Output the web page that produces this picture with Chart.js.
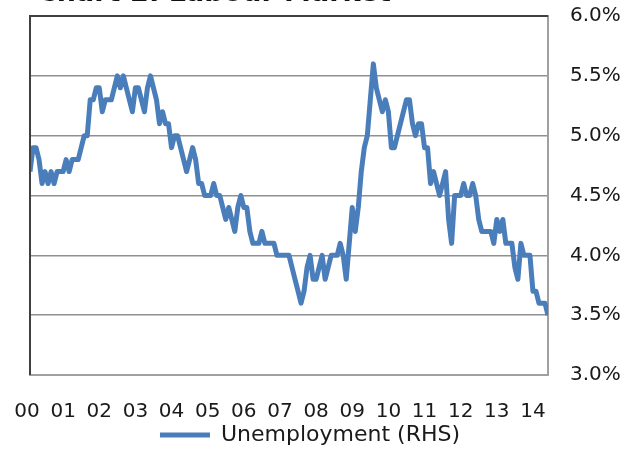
<!DOCTYPE html>
<html>
<head>
<meta charset="utf-8">
<script src="https://cdn.jsdelivr.net/npm/chart.js@4"></script>
<style>
  body { margin: 0; background: #fff; }
  #wrap { position: relative; width: 642px; height: 456px; overflow: hidden; }
  #titulo { position: absolute; left: 37px; top: -22px; font: bold 27px "DejaVu Sans"; line-height: 27px; color: #111; white-space: nowrap; }
</style>
</head>
<body>
<div id="wrap">
  <canvas id="grafico" width="642" height="456"></canvas>
  <div id="titulo">Chart 2: Labour Market</div>
</div>
<script>
// datos mensuales, ene 2000 - may 2014
const years = ['00', '01', '02', '03', '04', '05', '06', '07', '08', '09', '10', '11', '12', '13', '14']
const yTicks = [3.0, 3.5, 4.0, 4.5, 5.0, 5.5, 6.0]
const unemployment = [
  4.7, 4.9, 4.9, 4.8, 4.6, 4.7, 4.6, 4.7, 4.6, 4.7, 4.7, 4.7,
  4.8, 4.7, 4.8, 4.8, 4.8, 4.9, 5.0, 5.0, 5.3, 5.3, 5.4, 5.4,
  5.2, 5.3, 5.3, 5.3, 5.4, 5.5, 5.4, 5.5, 5.4, 5.3, 5.2, 5.4,
  5.4, 5.3, 5.2, 5.4, 5.5, 5.4, 5.3, 5.1, 5.2, 5.1, 5.1, 4.9,
  5.0, 5.0, 4.9, 4.8, 4.7, 4.8, 4.9, 4.8, 4.6, 4.6, 4.5, 4.5,
  4.5, 4.6, 4.5, 4.5, 4.4, 4.3, 4.4, 4.3, 4.2, 4.4, 4.5, 4.4,
  4.4, 4.2, 4.1, 4.1, 4.1, 4.2, 4.1, 4.1, 4.1, 4.1, 4.0, 4.0,
  4.0, 4.0, 4.0, 3.9, 3.8, 3.7, 3.6, 3.7, 3.9, 4.0, 3.8, 3.8,
  3.9, 4.0, 3.8, 3.9, 4.0, 4.0, 4.0, 4.1, 4.0, 3.8, 4.1, 4.4,
  4.2, 4.4, 4.7, 4.9, 5.0, 5.3, 5.6, 5.4, 5.3, 5.2, 5.3, 5.2,
  4.9, 4.9, 5.0, 5.1, 5.2, 5.3, 5.3, 5.1, 5.0, 5.1, 5.1, 4.9,
  4.9, 4.6, 4.7, 4.6, 4.5, 4.6, 4.7, 4.3, 4.1, 4.5, 4.5, 4.5,
  4.6, 4.5, 4.5, 4.6, 4.5, 4.3, 4.2, 4.2, 4.2, 4.2, 4.1, 4.3,
  4.2, 4.3, 4.1, 4.1, 4.1, 3.9, 3.8, 4.1, 4.0, 4.0, 4.0, 3.7,
  3.7, 3.6, 3.6, 3.6, 3.5
]

const azul = '#4a7ebb'
const fuente = '"DejaVu Sans"'

// marco del area de grafico: arriba e izquierda oscuros
const marco = {
  id: 'marco',
  afterLayout(chart) {
    // la leyenda va un poco a la izquierda del centro
    chart.legend.left -= 26
    chart.legend.right -= 26
  },
  afterDraw(chart) {
    const { ctx, chartArea: a } = chart
    ctx.save()
    ctx.strokeStyle = '#404040'
    ctx.lineWidth = 2
    ctx.beginPath()
    ctx.moveTo(a.left, a.bottom)
    ctx.lineTo(a.left, a.top)
    ctx.lineTo(a.right, a.top)
    ctx.stroke()
    ctx.restore()
  }
}

const ctx = document.getElementById('grafico').getContext('2d')
const grafico = new Chart(ctx, {
  type: 'line',
  data: {
    datasets: [{
      label: 'Unemployment (RHS)',
      data: unemployment.map((v, i) => ({ x: i, y: v })),
      borderColor: azul,
      backgroundColor: azul,
      borderWidth: 5,
      borderJoinStyle: 'round',
      pointRadius: 0,
      tension: 0
    }]
  },
  options: {
    responsive: false,
    animation: false,
    layout: { padding: { left: 30, right: 0, top: 16, bottom: 0 } },
    scales: {
      x: {
        type: 'linear',
        position: 'bottom',
        min: 0,
        max: unemployment.length - 1,
        afterBuildTicks: (scale) => { scale.ticks = years.map((y, i) => ({ value: i * 12 })) },
        afterFit: (scale) => { scale.height = 44 },
        grid: { display: false },
        border: { display: true, color: '#a0a0a0', width: 2 },
        ticks: {
          autoSkip: false,
          maxRotation: 0,
          padding: 17,
          labelOffset: -3,
          color: '#1a1a1a',
          font: { family: fuente, size: 20 },
          callback: (v) => years[v / 12]
        }
      },
      y: {
        position: 'right',
        min: 3,
        max: 6,
        afterBuildTicks: (scale) => { scale.ticks = yTicks.map(v => ({ value: v })) },
        afterFit: (scale) => {
          scale.width = 94
          scale.paddingTop = 0
          scale.paddingBottom = 0
        },
        grid: { color: '#909090', lineWidth: 1.5, drawTicks: false },
        border: { display: true, color: '#a0a0a0', width: 2 },
        ticks: {
          padding: 22,
          color: '#1a1a1a',
          font: { family: fuente, size: 20 },
          callback: (v) => v.toFixed(1) + '%'
        }
      }
    },
    plugins: {
      legend: {
        display: true,
        position: 'bottom',
        labels: {
          usePointStyle: true,
          pointStyle: 'line',
          pointStyleWidth: 50,
          color: '#1a1a1a',
          font: { family: fuente, size: 22 },
          padding: 5
        }
      },
      tooltip: { enabled: false }
    }
  },
  plugins: [marco]
})
</script>
</body>
</html>
